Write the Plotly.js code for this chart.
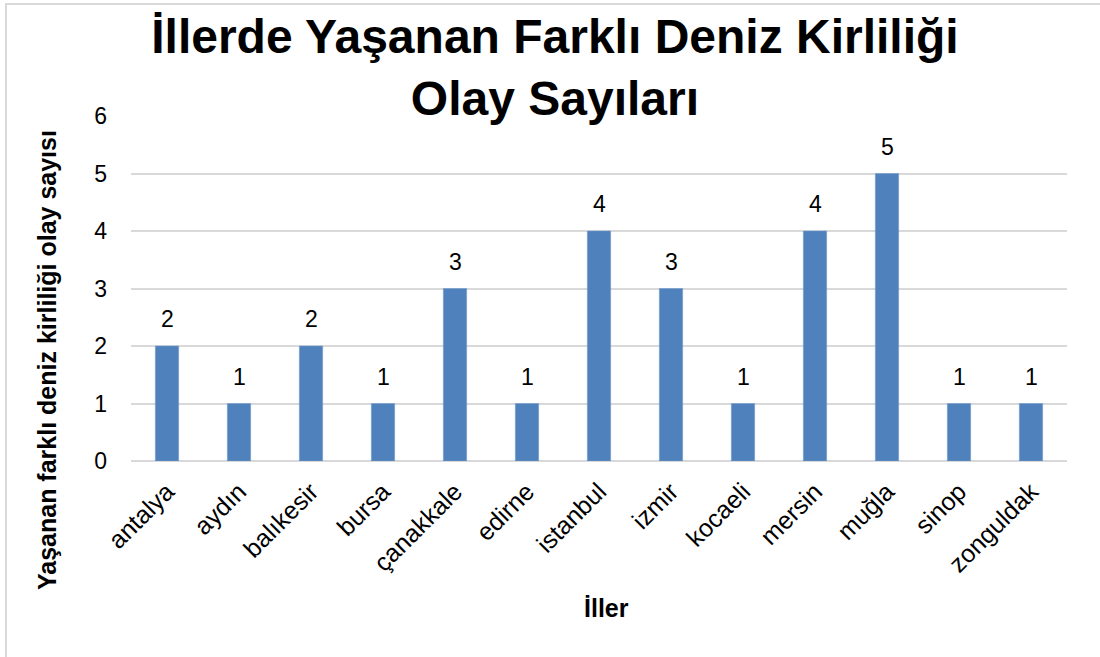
<!DOCTYPE html>
<html>
<head>
<meta charset="utf-8">
<script src="https://cdn.plot.ly/plotly-3.0.1.min.js"></script>
<style>
  html, body { margin: 0; padding: 0; background: #fff; }
  #wrap { position: relative; width: 1100px; height: 657px; overflow: hidden; }
  #chart { width: 1100px; height: 657px; }
  #frame { position: absolute; left: 5px; top: 3px; width: 1200px; height: 700px;
           border-top: 2px solid #d9d9d9; border-left: 2px solid #d9d9d9; pointer-events: none; }
</style>
</head>
<body>
<div id="wrap">
  <div id="chart"></div>
  <div id="frame"></div>
</div>
<script>
const categories = ["antalya", "aydın", "balıkesir", "bursa", "çanakkale", "edirne", "istanbul", "izmir", "kocaeli", "mersin", "muğla", "sinop", "zonguldak"];
const counts = [2, 1, 2, 1, 3, 1, 4, 3, 1, 4, 5, 1, 1];
const yTicks = [0, 1, 2, 3, 4, 5, 6];
const titleText = "İllerde Yaşanan Farklı Deniz Kirliliği<br>Olay Sayıları";
const xTitle = "İller";
const yTitle = "Yaşanan farklı deniz kirliliği olay sayısı";

const FONT = "Liberation Sans, Arial, sans-serif";

const trace = {
  type: "bar",
  x: categories,
  y: counts,
  marker: { color: "#4F81BD", line: { color: "#6f98cc", width: 0.5 } },
  hoverinfo: "x+y"
};

const labelAnnotations = categories.map((c, i) => ({
  x: c, y: counts[i], xref: "x", yref: "y",
  text: String(counts[i]), showarrow: false,
  yanchor: "bottom", yshift: 12,
  font: { family: FONT, size: 23, color: "#000" }
}));

const layout = {
  width: 1100, height: 657,
  margin: { l: 131, r: 33, t: 116, b: 196 },
  paper_bgcolor: "#fff", plot_bgcolor: "#fff",
  font: { family: FONT, color: "#000" },
  title: {
    text: titleText,
    font: { family: FONT, size: 48, color: "#000", weight: "bold" },
    xref: "container", x: 0.5045, xanchor: "center",
    yref: "container", y: 0.92, yanchor: "top"
  },
  bargap: 0.676,
  showlegend: false,
  xaxis: {
    type: "category",
    tickangle: -45,
    tickfont: { family: FONT, size: 25, color: "#000" },
    showgrid: false,
    showline: false,
    ticks: "",
    zeroline: false,
    ticklabelstandoff: 10
  },
  yaxis: {
    range: [0, 6],
    tickvals: yTicks,
    tickfont: { family: FONT, size: 23, color: "#000" },
    showgrid: true, gridcolor: "#d9d9d9", gridwidth: 2,
    zeroline: true, zerolinecolor: "#d9d9d9", zerolinewidth: 2,
    showline: false, ticks: "",
    ticklabelstandoff: 23
  },
  annotations: labelAnnotations.concat([
    {
      xref: "paper", yref: "paper", x: 0.5075, y: -0.426,
      xanchor: "center", yanchor: "middle", showarrow: false,
      text: xTitle, font: { family: FONT, size: 25, color: "#000", weight: "bold" }
    },
    {
      xref: "paper", yref: "paper", x: -0.0897, y: 0.2928,
      xanchor: "center", yanchor: "middle", showarrow: false, textangle: -90,
      text: yTitle, font: { family: FONT, size: 25, color: "#000", weight: "bold" }
    }
  ])
};

Plotly.newPlot("chart", [trace], layout, { displayModeBar: false, staticPlot: true });
</script>
</body>
</html>
